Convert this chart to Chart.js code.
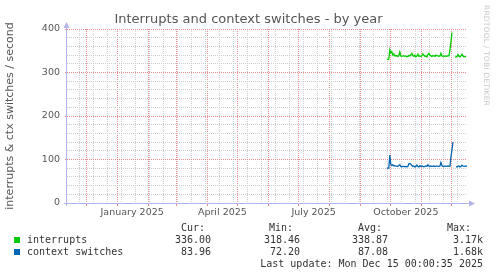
<!DOCTYPE html>
<html>
<head>
<meta charset="utf-8">
<script src="https://cdn.jsdelivr.net/npm/chart.js@4.4.1/dist/chart.umd.min.js"></script>
<style>
html, body { margin: 0; padding: 0; background: #fff; }
#wrap { position: relative; width: 497px; height: 276px; overflow: hidden; }
#c { position: absolute; left: 0; top: 0; }
.t { position: absolute; font: 10px "DejaVu Sans Mono", monospace; color: #333; white-space: pre; line-height: 12px; }
.sw { position: absolute; width: 6px; height: 6px; }
#rrd { position: absolute; left: 482px; top: 5px; writing-mode: vertical-rl; font: 7.5px "DejaVu Sans", sans-serif; color: #c8c8c8; letter-spacing: 0.2px; }
</style>
</head>
<body>
<div id="wrap">
  <canvas id="c" width="497" height="276"></canvas>
  <div id="rrd">RRDTOOL / TOBI OETIKER</div>
  <div id="legend"></div>
</div>
<script>
// days are counted from 1 Jan 2025
const firstDay = 269;          // 27 Sep 2025, first day with data
const viewMin = -50, viewMax = 349;

const interrupts = [
  330, 330, 331, 352, 345, 348, 340, 343, 338, 339, 338, 337, 339, 347, 338, 337,
  338, 338, 337, 338, 336, 337, 339, 338, 341, 344, 339, 337, 340, 336, 338, 342,
  337, 338, 337, 339, 343, 340, 337, 338, 336, 341, 344, 340, 338, 337, 339, 338,
  337, 340, 339, 338, 337, 338, 344, 338, 337, 338, 337, 338, 337, 338, 338, 352,
  370, 392, null, null,
  335, 336, 337, 341, 337, 336, 339, 342, 338, 336, 337, 336
];
const ctxSwitches = [
  80, 80, 80, 110, 89, 86, 88, 85, 86, 85, 85, 84, 86, 88, 84, 83,
  84, 84, 83, 84, 83, 84, 90, 91, 89, 86, 84, 85, 83, 84, 87, 84,
  83, 86, 84, 85, 84, 83, 84, 85, 84, 88, 85, 84, 85, 84, 84, 85,
  84, 85, 85, 84, 84, 85, 93, 86, 84, 84, 85, 84, 84, 85, 84, 84,
  106, 122, 140, null, null,
  83, 83, 84, 85, 83, 84, 87, 85, 84, 84, 85, 84
];

const monthStarts = ['2024-12-01', '2025-01-01', '2025-02-01', '2025-03-01', '2025-04-01', '2025-05-01',
  '2025-06-01', '2025-07-01', '2025-08-01', '2025-09-01', '2025-10-01', '2025-11-01', '2025-12-01'];
const labelDates = ['2025-01-16', '2025-04-16', '2025-07-16', '2025-10-16'];
const labelTexts = ['January 2025', 'April 2025', 'July 2025', 'October 2025'];
const firstMinor = -38, minorStep = 14;

const legendRows = [
  {name: 'interrupts', color: '#00cc00', cur: '336.00', min: '318.46', avg: '338.87', max: '3.17k'},
  {name: 'context switches', color: '#0066b3', cur: '83.96', min: '72.20', avg: '87.08', max: '1.68k'}
];
const lastUpdate = 'Last update: Mon Dec 15 00:00:35 2025';

function dayOf(s) {
  return Math.round((Date.parse(s) - Date.parse('2025-01-01')) / 864e5);
}

const gridRed = 'rgb(236,140,140)';
const gridGray = 'rgb(205,205,205)';
const axisColor = '#b4b4ec';

function toPoints(vals) {
  return vals.map((v, i) => ({x: firstDay + i, y: v}));
}

const xTicks = [];
monthStarts.forEach(d => xTicks.push({value: dayOf(d), kind: 'month'}));
for (let d = firstMinor; d < viewMax; d += minorStep) xTicks.push({value: d, kind: 'minor'});
labelDates.forEach((d, i) => xTicks.push({value: dayOf(d), kind: 'label', text: labelTexts[i]}));
xTicks.sort((a, b) => a.value - b.value);

const axisArrows = {
  id: 'axisArrows',
  afterDraw(chart) {
    const {ctx, chartArea: a} = chart;
    ctx.save();
    ctx.strokeStyle = axisColor;
    ctx.fillStyle = axisColor;
    ctx.lineWidth = 1;
    ctx.beginPath();
    ctx.moveTo(a.left - 0.5, a.bottom + 3);
    ctx.lineTo(a.left - 0.5, a.top - 4);
    ctx.moveTo(a.left - 3, a.bottom + 0.5);
    ctx.lineTo(a.right + 5, a.bottom + 0.5);
    ctx.stroke();
    ctx.beginPath();
    ctx.moveTo(a.left - 0.5, a.top - 7);
    ctx.lineTo(a.left - 3.5, a.top - 1);
    ctx.lineTo(a.left + 2.5, a.top - 1);
    ctx.closePath();
    ctx.fill();
    ctx.beginPath();
    ctx.moveTo(a.right + 8, a.bottom + 0.5);
    ctx.lineTo(a.right + 2, a.bottom - 2.5);
    ctx.lineTo(a.right + 2, a.bottom + 3.5);
    ctx.closePath();
    ctx.fill();
    ctx.restore();
  }
};

new Chart(document.getElementById('c'), {
  type: 'line',
  data: {
    datasets: [
      {label: 'interrupts', data: toPoints(interrupts), borderColor: '#00cc00', borderWidth: 1.3,
        pointRadius: 0, tension: 0, spanGaps: false},
      {label: 'context switches', data: toPoints(ctxSwitches), borderColor: '#0066b3', borderWidth: 1.3,
        pointRadius: 0, tension: 0, spanGaps: false}
    ]
  },
  options: {
    responsive: false,
    animation: false,
    layout: {padding: 0},
    plugins: {
      legend: {display: false},
      tooltip: {enabled: false},
      title: {
        display: true,
        text: 'Interrupts and context switches - by year',
        color: '#555',
        font: {family: 'DejaVu Sans', size: 13, weight: 'normal'},
        padding: {top: 12, bottom: 1.4}
      }
    },
    scales: {
      x: {
        type: 'linear',
        min: viewMin,
        max: viewMax,
        afterBuildTicks(scale) { scale.ticks = xTicks.map(t => Object.assign({}, t)); },
        afterFit(scale) { scale.height = 73; },
        border: {display: false, dash: [1, 1]},
        grid: {
          color: c => c.tick && c.tick.kind === 'month' ? gridRed : (c.tick && c.tick.kind === 'minor' ? gridGray : 'rgba(0,0,0,0)'),
          tickColor: c => c.tick && c.tick.kind === 'month' ? gridRed : 'rgba(0,0,0,0)',
          tickLength: 3,
          lineWidth: 1
        },
        ticks: {
          autoSkip: false,
          maxRotation: 0,
          padding: 1,
          color: '#555',
          font: {family: 'DejaVu Sans', size: 9.5},
          callback: (v, i, ticks) => ticks[i].text || ''
        }
      },
      y: {
        min: 0,
        max: 400,
        afterFit(scale) { scale.width = 67; },
        border: {display: false, dash: [1, 1]},
        grid: {
          color: c => c.tick && c.tick.value % 100 === 0 ? gridRed : gridGray,
          tickColor: c => c.tick && c.tick.value % 100 === 0 ? gridRed : 'rgba(0,0,0,0)',
          tickLength: 2,
          lineWidth: 1
        },
        ticks: {
          stepSize: 20,
          autoSkip: false,
          padding: 5,
          color: '#555',
          font: {family: 'DejaVu Sans', size: 9.5},
          callback: v => v % 100 === 0 ? String(v) : ''
        },
        title: {
          display: true,
          text: 'interrupts & ctx switches / second',
          color: '#555',
          font: {family: 'DejaVu Sans', size: 11},
          padding: {top: 3.5, bottom: 0}
        }
      },
      // empty right-hand strip so the plot stops where rrdtool's does
      side: {
        position: 'right',
        min: 0,
        max: 1,
        afterFit(scale) { scale.width = 30; },
        grid: {display: false},
        border: {display: false},
        ticks: {display: false}
      }
    }
  },
  plugins: [axisArrows]
});

// legend block under the chart, rrdtool style
const lg = document.getElementById('legend');
function put(text, left, top, right) {
  const el = document.createElement('div');
  el.className = 't';
  el.textContent = text;
  el.style.top = top + 'px';
  if (right != null) { el.style.right = right + 'px'; el.style.textAlign = 'right'; }
  else el.style.left = left + 'px';
  lg.appendChild(el);
}
put('Cur:', 181, 222);
put('Min:', 269, 222);
put('Avg:', 358, 222);
put('Max:', 447, 222);
const valueRights = [286, 197, 109, 14];
legendRows.forEach((r, i) => {
  const top = 234 + i * 12;
  const sw = document.createElement('div');
  sw.className = 'sw';
  sw.style.left = '14px';
  sw.style.top = (top + 3) + 'px';
  sw.style.background = r.color;
  lg.appendChild(sw);
  put(r.name, 27, top);
  [r.cur, r.min, r.avg, r.max].forEach((v, k) => put(v, null, top, valueRights[k]));
});
put(lastUpdate, null, 258, 14);
</script>
</body>
</html>
